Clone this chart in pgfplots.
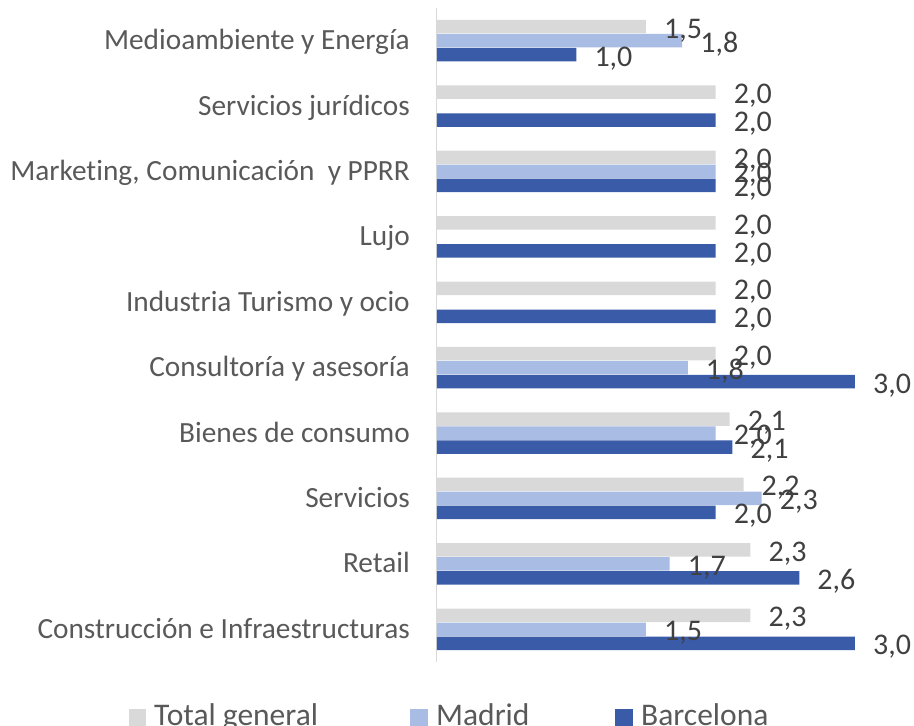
\documentclass[border=0pt]{standalone}
\usepackage{fontspec}
\setmainfont{Carlito}[Ligatures=NoCommon]
\usepackage{pgfplots}
\pgfplotsset{compat=1.18}

\definecolor{cTotal}{HTML}{D9D9D9}
\definecolor{cMad}{HTML}{A9BCE3}
\definecolor{cBcn}{HTML}{3A5BA8}
\definecolor{txtcat}{HTML}{595959}
\definecolor{txtlab}{HTML}{404040}
\newcommand\catfont{\fontsize{29.3}{35}\selectfont}
\newcommand\labfont{\fontsize{30}{36}\selectfont}
\newcommand\legfont{\fontsize{31.5}{38}\selectfont}

\begin{document}
\begin{tikzpicture}
\begin{axis}[
    at={(0pt,0pt)}, anchor=south west,
    scale only axis,
    width=418pt, height=654pt,
    xmin=0, xmax=3,
    ymin=-0.5, ymax=9.5,
    xbar, bar width=13.5pt,
    axis x line=none,
    axis y line=left,
    y axis line style={-, draw=black!15, line width=1pt},
    major tick length=0pt,
    ytick={0,...,9},
    yticklabels={Construcción e Infraestructuras, Retail, Servicios,
        Bienes de consumo, Consultoría y asesoría, Industria Turismo y ocio,
        Lujo, Marketing{,} Comunicación\ \ y PPRR, Servicios jurídicos,
        Medioambiente y Energía},
    yticklabel style={font=\catfont, text=txtcat, anchor=base east,
        inner sep=0pt, xshift=-27pt, yshift=-9pt},
    clip=false,
    point meta=explicit symbolic,
    nodes near coords,
    nodes near coords style={font=\labfont, text=txtlab, anchor=base west,
        inner sep=0pt, xshift=18pt, yshift=-11.5pt},
]
% Total general
\addplot[fill=cTotal, draw=none, bar shift=14pt] coordinates {
    (2.25,0) [2,3] (2.25,1) [2,3] (2.2,2) [2,2] (2.1,3) [2,1]
    (2.0,4) [2,0] (2.0,5) [2,0] (2.0,6) [2,0] (2.0,7) [2,0]
    (2.0,8) [2,0] (1.5,9) [1,5]
};
% Madrid
\addplot[fill=cMad, draw=none, bar shift=0pt] coordinates {
    (1.5,0) [1,5] (1.67,1) [1,7] (2.33,2) [2,3] (2.0,3) [2,0]
    (1.8,4) [1,8] (2.0,7) [2,0] (1.76,9) [1,8]
};
% Barcelona
\addplot[fill=cBcn, draw=none, bar shift=-14pt] coordinates {
    (3.0,0) [3,0] (2.6,1) [2,6] (2.0,2) [2,0] (2.12,3) [2,1]
    (3.0,4) [3,0] (2.0,5) [2,0] (2.0,6) [2,0] (2.0,7) [2,0]
    (2.0,8) [2,0] (1.0,9) [1,0]
};
\end{axis}
% legend
\fill[cTotal] (-308pt,-64pt) rectangle (-291pt,-47pt);
\node[anchor=base west, inner sep=0pt, text=txtcat, font=\legfont] at (-283pt,-64pt) {Total general};
\fill[cMad] (-27pt,-64pt) rectangle (-9pt,-47pt);
\node[anchor=base west, inner sep=0pt, text=txtcat, font=\legfont] at (-1pt,-64pt) {Madrid};
\fill[cBcn] (178pt,-64pt) rectangle (196pt,-47pt);
\node[anchor=base west, inner sep=0pt, text=txtcat, font=\legfont] at (204pt,-64pt) {Barcelona};
\pgfresetboundingbox
\useasboundingbox (-437pt,-64pt) rectangle (477pt,662pt);
\end{tikzpicture}
\end{document}
